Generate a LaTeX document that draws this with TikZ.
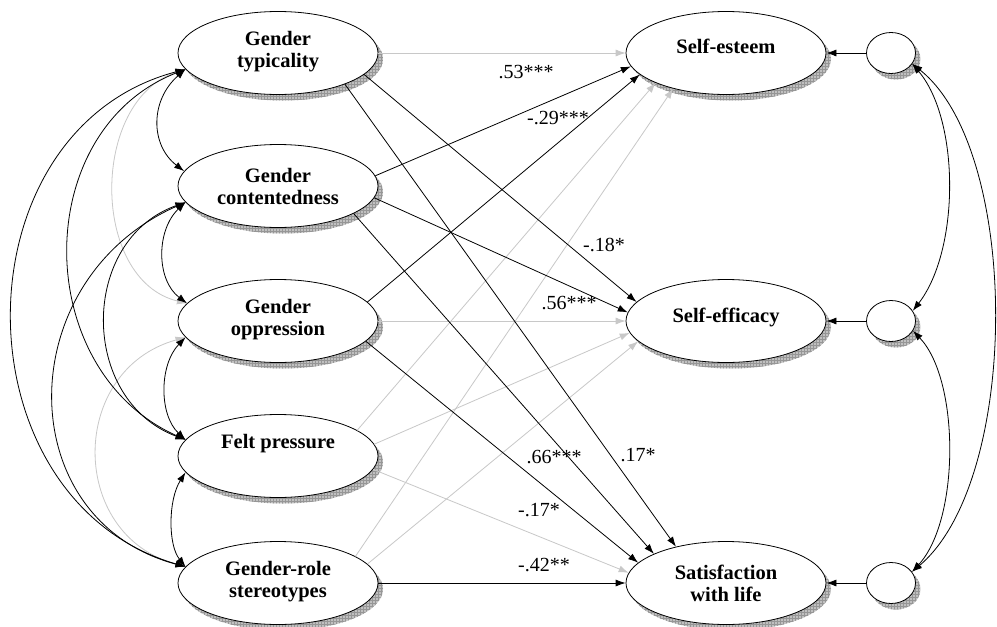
\documentclass[tikz,border=0pt]{standalone}
\usepackage{fontspec}
\setmainfont{Liberation Serif}
\usetikzlibrary{arrows.meta,shadows,patterns,shapes.geometric}
\definecolor{lgrey}{RGB}{200,200,200}
\definecolor{shgrey}{RGB}{192,192,192}
\definecolor{shgrid}{RGB}{150,150,150}
\tikzset{
  shadowed/.style={
    general shadow={shadow xshift=5pt,shadow yshift=-6pt,fill=shgrey},
    general shadow={shadow xshift=5pt,shadow yshift=-6pt,pattern=grid,pattern color=shgrid}},
  bigell/.style={ellipse,draw,fill=white,line width=0.8pt,minimum width=200pt,minimum height=83pt,inner sep=0pt,shadowed},
  resid/.style={ellipse,draw,fill=white,line width=0.8pt,minimum width=49pt,minimum height=41pt,inner sep=0pt,shadowed},
  lbl/.style={font=\bfseries\fontsize{20.5}{22}\selectfont,align=center,inner sep=0pt},
  coef/.style={font=\fontsize{20}{22}\selectfont,inner sep=0pt},
  pth/.style={line width=0.8pt,-{Latex[length=10pt,width=7pt]}},
  gpth/.style={line width=0.8pt,draw=lgrey,-{Latex[length=10pt,width=7pt,color=lgrey]}},
  cov/.style={line width=0.8pt,{Latex[length=10pt,width=7pt]}-{Latex[length=10pt,width=7pt]}},
  gcov/.style={line width=0.8pt,draw=lgrey,{Latex[length=10pt,width=7pt,color=lgrey]}-{Latex[length=10pt,width=7pt,color=lgrey]}}
}
\begin{document}
\begin{tikzpicture}[x=1pt,y=-1pt]
\useasboundingbox[fill=white] (0,0) rectangle (997,627);
% left ellipses
\node[bigell] (GT) at (278,53) {};
\node[bigell] (GC) at (278,186) {};
\node[bigell] (GO) at (278,321) {};
\node[bigell] (FP) at (278,456) {};
\node[bigell] (GR) at (278,583) {};
% right ellipses
\node[bigell] (SE) at (726,53) {};
\node[bigell] (SF) at (726,321) {};
\node[bigell] (SL) at (726,583) {};
% residual circles
\node[resid] (C1) at (891,53) {};
\node[resid] (C2) at (891,321) {};
\node[resid] (C3) at (891,583) {};
% texts
\node[lbl] (GTt) at (278,52) {Gender\\typicality};
\node[lbl] (GCt) at (278,186) {Gender\\contentedness};
\node[lbl] (GOt) at (278,320) {Gender\\oppression};
\node[lbl,anchor=base] (FPt) at (278,448) {Felt pressure};
\node[lbl] (GRt) at (278,582) {Gender-role\\stereotypes};
\node[lbl,anchor=base] (SEt) at (726,53) {Self-esteem};
\node[lbl,anchor=base] (SFt) at (726,322) {Self-efficacy};
\node[lbl] (SLt) at (726,583) {Satisfaction\\with life};
% grey paths
\draw[gpth] (GT.0) -- (SE.180);
\draw[gpth] (GO.0) -- (SF.180);
\draw[gpth] (FP.18) -- (SE.203);
\draw[gpth] (FP.7) -- (SF.187);
\draw[gpth] (FP.352) -- (SL.174);
\draw[gpth] (GR.19) -- (SE.214);
\draw[gpth] (GR.12) -- (SF.193);
% black paths
\draw[pth] (GC.6.5) -- (SE.188);
\draw[pth] (GO.12) -- (SE.194);
\draw[pth] (GT.346) -- (SF.168);
\draw[pth] (GC.353.5) -- (SF.175);
\draw[pth] (GT.335) -- (SL.144.5);
\draw[pth] (GC.340.5) -- (SL.158.5);
\draw[pth] (GO.347) -- (SL.167.6);
\draw[pth] (GR.0) -- (SL.180);
% residual paths
\draw[pth] (C1.west) -- (SE.east);
\draw[pth] (C2.west) -- (SF.east);
\draw[pth] (C3.west) -- (SL.east);
% coefficients
\node[coef] (k1) at (526,72) {.53***};
\node[coef] (k2) at (558,118) {-.29***};
\node[coef] (k3) at (604,245) {-.18*};
\node[coef] (k4) at (569,303) {.56***};
\node[coef] (k5) at (554,457) {.66***};
\node[coef] (k6) at (638,455) {.17*};
\node[coef] (k7) at (539,510) {-.17*};
\node[coef] (k8) at (544,565) {-.42**};
% left covariances
\draw[gcov] (GT.190) .. controls (90,100) and (90,280) .. (GO.169);
\draw[gcov] (GO.190) .. controls (68,370) and (68,535) .. (GR.170);
\draw[cov] (GT.190) .. controls (150,100) and (150,145) .. (GC.171);
\draw[cov] (GC.190) .. controls (156,230) and (156,280) .. (GO.169);
\draw[cov] (GO.190) .. controls (159,365) and (159,415) .. (FP.170);
\draw[cov] (FP.190) .. controls (168,500) and (168,545) .. (GR.170);
\draw[cov] (GC.190) .. controls (79,240) and (79,400) .. (FP.170);
\draw[cov] (GT.190) .. controls (30,130) and (30,370) .. (FP.170);
\draw[cov] (GC.190) .. controls (10,280) and (10,520) .. (GR.170);
\draw[cov] (GT.190) .. controls (-45,130) and (-45,500) .. (GR.170);
% right covariances
\draw[cov] (C1.333) .. controls (960,120) and (960,250) .. (C2.25);
\draw[cov] (C2.336) .. controls (960,380) and (960,520) .. (C3.28);
\draw[cov] (C1.333) .. controls (1021,150) and (1021,480) .. (C3.28);
\end{tikzpicture}
\end{document}
